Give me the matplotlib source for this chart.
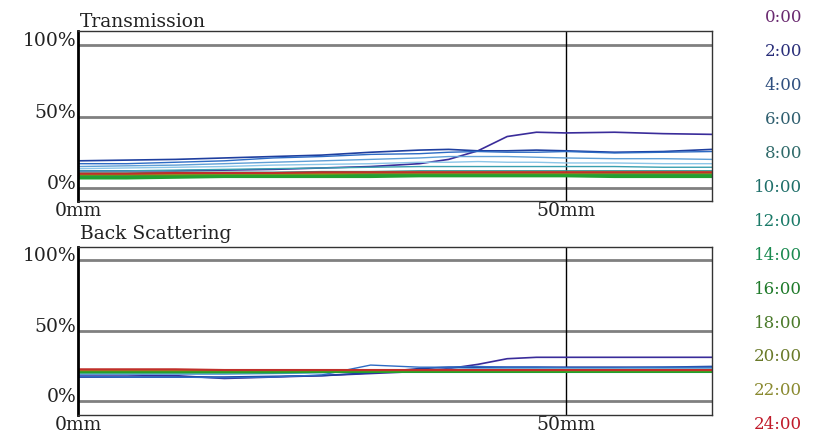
import matplotlib
matplotlib.use("Agg")
import matplotlib.pyplot as plt

# ---- data -------------------------------------------------------------
TIMES = ["0:00", "2:00", "4:00", "6:00", "8:00", "10:00", "12:00",
         "14:00", "16:00", "18:00", "20:00", "22:00", "24:00"]

X_MM = [0, 5, 10, 15, 20, 25, 30, 35, 38, 41, 44, 47, 50, 55, 60, 65]

# transmission (%) per time
T_0 = [12, 12, 12, 12.5, 13, 14, 15, 17, 20, 26, 36, 39, 38.5, 39, 38, 37.5]
T_2 = [19, 19.5, 20, 21, 22, 23, 25, 26.5, 27, 26, 26, 26.5, 26, 25, 25.5, 27]
T_4 = [17, 17, 18, 19, 21, 22, 23.5, 24, 25, 25.5, 25, 25, 25.5, 24.5, 25, 25.5]
T_6 = [15, 15.5, 16, 17, 18, 19, 20, 21, 22, 22, 22, 21.5, 21, 20.5, 20.5, 20]
T_8 = [13.5, 14, 14.5, 15, 16, 16.5, 17, 18, 18, 18.5, 18, 18, 17.5, 17.5, 17, 17]
T_10 = [12, 12, 12.5, 13, 13.5, 14, 14.5, 15, 15, 15, 15, 15, 15, 15, 14.5, 14.5]
T_12 = [10.5, 10.5, 11, 11, 11, 11.5, 11.5, 12, 12, 12, 12, 12, 12, 12, 12, 12]
T_14 = [8, 8, 8.5, 8.5, 8.5, 9, 9, 9, 9, 9, 9, 9, 9, 9, 9, 9]
T_16 = [7, 7, 7.5, 8, 8, 8, 8, 8.5, 8.5, 8.5, 8.5, 8.5, 8.5, 8, 8, 8]
T_18 = [9, 9, 9, 9.5, 9.5, 9.5, 10, 10, 10, 10, 10, 10, 10, 10, 10, 10]
T_20 = [9.5, 9.5, 10, 10, 10, 10, 10.5, 10.5, 10.5, 10.5, 10.5, 10.5, 10.5, 10.5, 10.5, 10.5]
T_22 = [10, 10, 10, 10.5, 10.5, 10.5, 11, 11, 11, 11, 11, 11, 11, 11, 11, 11]
T_24 = [10, 10, 10.5, 10.5, 10.5, 11, 11, 11, 11, 11, 11, 11, 11, 11, 11, 11]

# back scattering (%) per time
BS_0 = [18.5, 18.5, 18, 16, 17, 18, 19.5, 21, 23, 26, 30, 31, 31, 31, 31, 31]
BS_2 = [17, 17, 17, 17, 17.5, 18, 20, 23, 24, 24, 24, 24, 24, 24, 24, 24.5]
BS_4 = [17.5, 17, 17, 16.5, 17, 18.5, 25.5, 24, 24, 24.5, 24, 24, 23.5, 23.5, 24, 24]
BS_6 = [19, 19, 19, 19, 19.5, 20, 21, 22, 22.5, 23, 23, 23, 23, 23, 23, 23]
BS_8 = [20, 20, 20, 20, 20.5, 21, 21.5, 22, 22, 22.5, 22.5, 22.5, 22.5, 22.5, 22.5, 22.5]
BS_10 = [21, 21, 21, 21, 21, 21.5, 21.5, 22, 22, 22, 22, 22, 22, 22, 22, 22]
BS_12 = [21, 21, 21, 21, 21, 21, 21.5, 21.5, 21.5, 21.5, 21.5, 21.5, 21.5, 21.5, 21.5, 21.5]
BS_14 = [20.5, 20.5, 20.5, 20.5, 20.5, 21, 21, 21, 21, 21, 21, 21, 21, 21, 21, 21]
BS_16 = [21, 21, 21, 21, 21, 21, 21, 21, 21, 21, 21, 21, 21, 21, 21, 21]
BS_18 = [21.5, 21.5, 21.5, 21.5, 21.5, 21.5, 21.5, 21.5, 21.5, 21.5, 21.5, 21.5, 21.5, 21.5, 21.5, 21.5]
BS_20 = [22, 22, 22, 22, 22, 22, 22, 22, 22, 22, 22, 22, 22, 22, 22, 22]
BS_22 = [22, 22, 22, 22, 22, 22, 22, 22, 22, 22, 22, 22, 22, 22, 22, 22]
BS_24 = [22.5, 22.5, 22.5, 22, 22, 22, 22, 22, 22, 22, 22, 22, 22, 22, 22, 22]

TRANS = [T_0, T_2, T_4, T_6, T_8, T_10, T_12, T_14, T_16, T_18, T_20, T_22, T_24]
BACKSCAT = [BS_0, BS_2, BS_4, BS_6, BS_8, BS_10, BS_12, BS_14, BS_16, BS_18, BS_20, BS_22, BS_24]

Y_TICKS = [0, 50, 100]
Y_TICKLABELS = ["0%", "50%", "100%"]
X_TICKS = [0, 50]
X_TICKLABELS = ["0mm", "50mm"]

# ---- styles -----------------------------------------------------------
LINE_COLOURS = [
    "#3a2c9a", "#1f3f9f", "#2d6bc4", "#5f9fd6", "#8cc6e8", "#3aa0b0",
    "#2f8f8f", "#1a9a5a", "#22a030", "#4a9a20", "#8a9a20", "#b07a20", "#c0302a",
]
LABEL_COLOURS = [
    "#6a2a70", "#2a2f7a", "#2f4f7f", "#2f5f6f", "#2f6a6a", "#1f6f6a",
    "#1a7a68", "#1a8a50", "#1f7a2a", "#4a7a2a", "#6a7a2a", "#8a8a30", "#c01a2a",
]
LINE_WIDTHS = [1.2, 1.2, 1.0, 1.0, 1.0, 1.0, 1.0, 2.2, 2.2, 1.2, 1.2, 1.2, 1.5]

plt.rcParams["font.family"] = ["DejaVu Serif"]

W, H = 813, 435
fig = plt.figure(figsize=(W / 100, H / 100), dpi=100)


def px_box(left, top, right, bottom):
    return [left / W, 1 - bottom / H, (right - left) / W, (bottom - top) / H]


def draw_panel(ax, series, title, title_y, ylims):
    for vals, col, lw in zip(series, LINE_COLOURS, LINE_WIDTHS):
        ax.plot(X_MM, vals, color=col, lw=lw)
    ax.set_xlim(0, 65)
    ax.set_ylim(*ylims)
    for y in Y_TICKS:
        ax.axhline(y, color="#808080", lw=2, zorder=0)
    ax.axvline(50, color="black", lw=1, zorder=0)
    ax.set_yticks(Y_TICKS)
    ax.set_yticklabels(Y_TICKLABELS, fontsize=13.5, color="#222222")
    plt.setp(ax.get_yticklabels(), va="baseline")
    ax.set_xticks(X_TICKS)
    ax.set_xticklabels(X_TICKLABELS, fontsize=13.5, color="#222222")
    ax.tick_params(axis="y", length=0, pad=1)
    ax.tick_params(axis="x", length=0, pad=0)
    for s in ["top", "right", "bottom"]:
        ax.spines[s].set_color("#333333")
        ax.spines[s].set_linewidth(1)
    ax.spines["left"].set_color("black")
    ax.spines["left"].set_linewidth(2)
    fig.text(80 / W, 1 - title_y / H, title, fontsize=13.5, color="#222222",
             ha="left", va="baseline")


ax_t = fig.add_axes(px_box(78, 32, 712, 202))
draw_panel(ax_t, TRANS, "Transmission", 27, (-9.1, 109.8))

ax_b = fig.add_axes(px_box(78, 248, 712, 416))
draw_panel(ax_b, BACKSCAT, "Back Scattering", 239, (-9.9, 109.2))

# time legend on the right
for i, (t, c) in enumerate(zip(TIMES, LABEL_COLOURS)):
    y = 18 + i * 33.9
    fig.text(802 / W, 1 - y / H, t, color=c, fontsize=12, ha="right", va="center")

fig.savefig("out.png", dpi=100)
